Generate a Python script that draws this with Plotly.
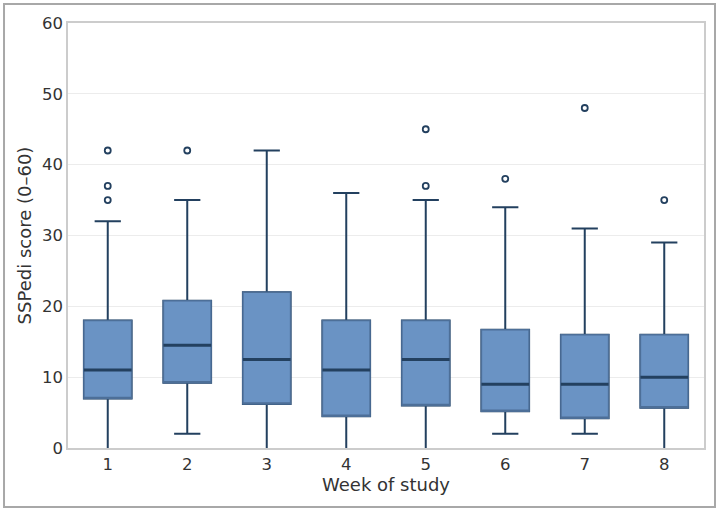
import plotly.graph_objects as go

weeks = [1, 2, 3, 4, 5, 6, 7, 8]
lower_whisker = [0, 2, 0, 0, 0, 2, 2, 0]
q1 = [7, 9.2, 6.2, 4.5, 6, 5.2, 4.2, 5.7]
median = [11, 14.5, 12.5, 11, 12.5, 9, 9, 10]
q3 = [18, 20.8, 22, 18, 18, 16.7, 16, 16]
upper_whisker = [32, 35, 42, 36, 35, 34, 31, 29]
outlier_week = [1, 1, 1, 2, 5, 5, 6, 7, 8]
outlier_value = [35, 37, 42, 42, 37, 45, 38, 48, 35]

dark = "#23405f"
fill = "#6a93c4"
outline = "#4d6f98"
box_w = 0.6
cap_w = 0.33

fig = go.Figure()


def flat_box(xs, vals, width, color, lw, fillc="rgba(0,0,0,0)"):
    return go.Box(x=xs, q1=vals, median=vals, q3=vals, lowerfence=vals, upperfence=vals,
                  width=width, whiskerwidth=0, fillcolor=fillc,
                  line=dict(color=color, width=lw), hoverinfo="skip", showlegend=False)


# whiskers (no caps)
fig.add_trace(go.Box(x=weeks, q1=q1, median=median, q3=q3,
                     lowerfence=lower_whisker, upperfence=upper_whisker,
                     width=box_w, whiskerwidth=0, fillcolor=fill,
                     line=dict(color=dark, width=2), hoverinfo="skip",
                     showlegend=False))
# upper caps
fig.add_trace(flat_box(weeks, upper_whisker, cap_w, dark, 2))
# lower caps (only where whisker end is above the axis)
lc_x = [w for w, l in zip(weeks, lower_whisker) if l > 0]
lc_v = [l for l in lower_whisker if l > 0]
fig.add_trace(flat_box(lc_x, lc_v, cap_w, dark, 2))
# box body with lighter outline
fig.add_trace(go.Box(x=weeks, q1=q1, median=q1, q3=q3,
                     lowerfence=q1, upperfence=q3,
                     width=box_w, whiskerwidth=0, fillcolor=fill,
                     line=dict(color=outline, width=1.5), hoverinfo="skip",
                     showlegend=False))
# thick median line
fig.add_trace(flat_box(weeks, median, box_w, dark, 3))
# outliers
fig.add_trace(go.Scatter(x=outlier_week, y=outlier_value, mode="markers",
                         marker=dict(symbol="circle-open", size=6,
                                     color=dark, line=dict(width=1.8, color=dark)),
                         hoverinfo="skip", showlegend=False))

fig.update_layout(
    width=721, height=514,
    margin=dict(l=68, r=17, t=23, b=66),
    paper_bgcolor="white", plot_bgcolor="white",
    boxmode="overlay",
    font=dict(family="DejaVu Sans", size=16.5, color="#333333"),
    xaxis=dict(range=[0.5, 8.5], tickmode="array", tickvals=weeks,
               ticktext=[str(w) for w in weeks], showgrid=False,
               showline=True, linecolor="#cccccc", linewidth=1.5, mirror=True,
               zeroline=False, ticks="",
               title=dict(text="Week of study", font=dict(size=18), standoff=6)),
    yaxis=dict(range=[0, 60], tickmode="array", tickvals=[0, 10, 20, 30, 40, 50, 60],
               showgrid=True, gridcolor="#ececec", gridwidth=1,
               showline=True, linecolor="#cccccc", linewidth=1.5, mirror=True,
               zeroline=False, ticks="",
               title=dict(text="SSPedi score (0–60)", font=dict(size=18), standoff=6)),
    shapes=[dict(type="rect", xref="paper", yref="paper",
                 x0=-0.1006, x1=1.0173, y0=-0.1388, y1=1.0447,
                 line=dict(color="#a8a8a8", width=2), fillcolor="rgba(0,0,0,0)",
                 layer="below")],
)

fig.write_html("out.html")
